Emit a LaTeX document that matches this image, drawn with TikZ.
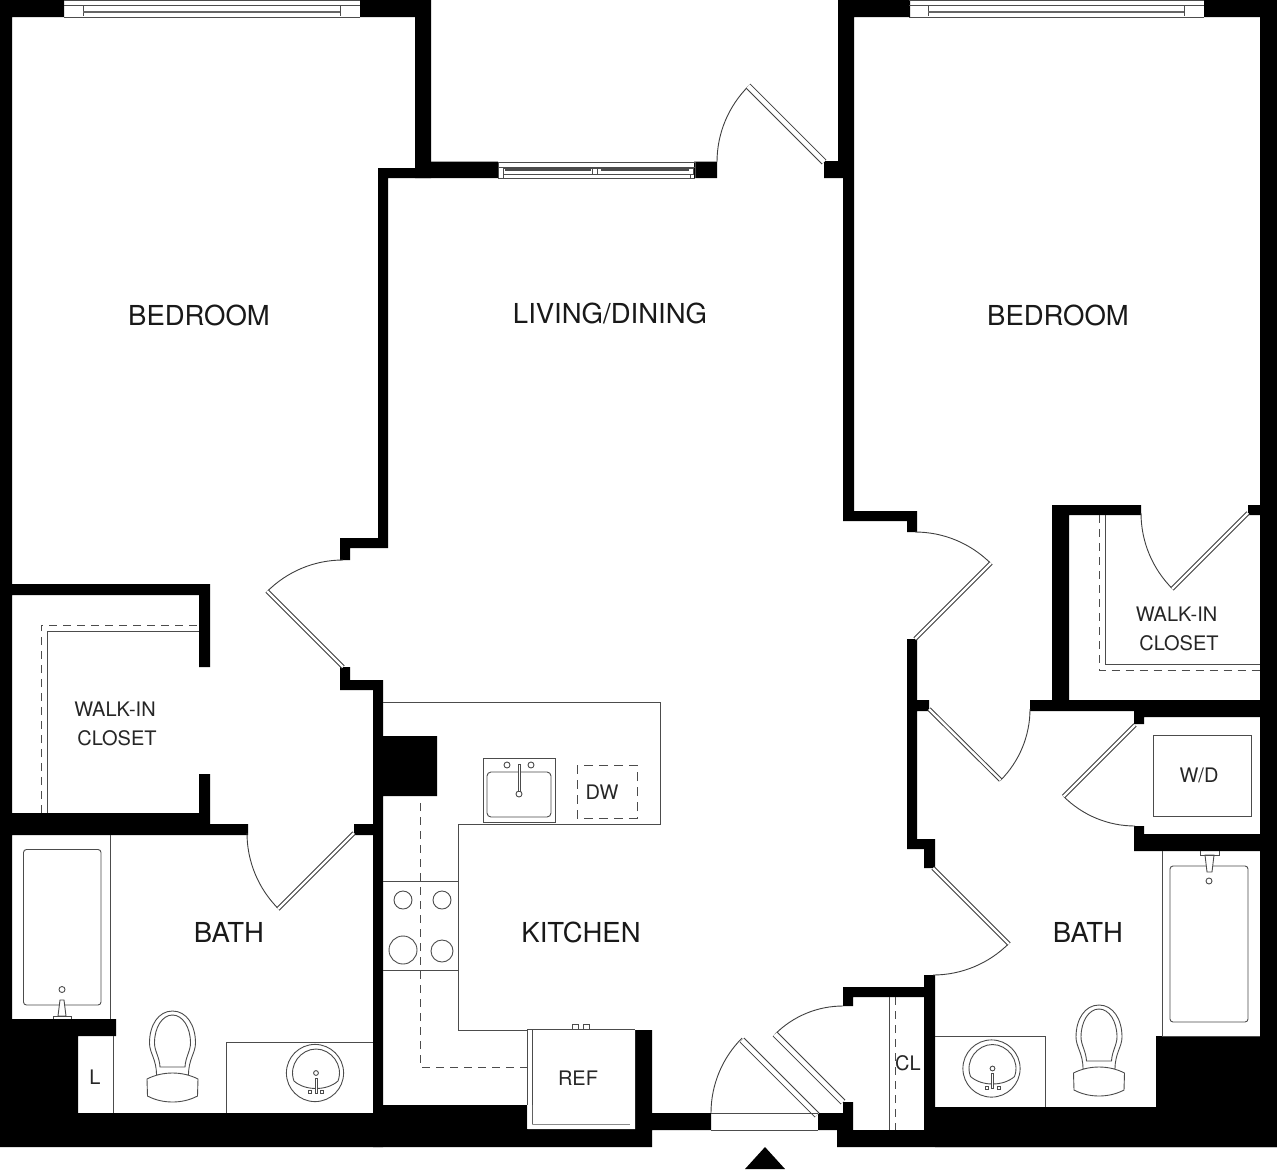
\documentclass[tikz,border=0pt]{standalone}
\usepackage{fontspec}
\setmainfont{TeX Gyre Heros}
\usetikzlibrary{arrows.meta,positioning}

\tikzset{
  thinline/.style={draw=black!70,line width=0.9pt},
  dashline/.style={draw=black!70,line width=0.9pt,dash pattern=on 8pt off 6pt},
  toilet/.pic={
    \draw[thinline] (0,0) .. controls (14,0) and (23,14) .. (23,32) .. controls (23,42) and (16,48) .. (16,64)
      -- (-16,64) .. controls (-16,48) and (-23,42) .. (-23,32) .. controls (-23,14) and (-14,0) .. (0,0);
    \draw[thinline] (0,4) .. controls (10,4) and (18,16) .. (18,32) .. controls (18,40) and (13,46) .. (12.5,56)
      -- (-12.5,56) .. controls (-13,46) and (-18,40) .. (-18,32) .. controls (-18,16) and (-10,4) .. (0,4);
    \draw[thinline,fill=white] (-25.5,68) .. controls (-10,60) and (10,60) .. (25.5,68) -- (25,85)
      .. controls (10,93) and (-10,93) .. (-25,85) -- cycle;
  },
  basin/.pic={
    \draw[thinline] (0,0) circle [radius=28.6];
    \draw[thinline] (-21,8) .. controls (-27,-8) and (-14,-24) .. (1,-24) .. controls (16,-24) and (29,-8) .. (23,8)
      .. controls (12,18) and (-10,18) .. (-21,8);
    \draw[thinline] (1,0) circle [radius=2.4];
    \draw[thinline,fill=white] (0,5) rectangle (2,20);
    \draw[thinline] (-6.5,17.5) rectangle (-3.5,20.5);
    \draw[thinline] (5.5,17.5) rectangle (8.5,20.5);
  }
}

\begin{document}
\begin{tikzpicture}[x=1pt,y=-1pt]
  \tikzstyle{wall}=[fill=black]
  \tikzstyle{swing}=[draw=black!75,line width=0.9pt]
  \tikzstyle{leaf}=[draw=black!75,line width=1pt,double=white,double distance=2.4pt]
  \tikzstyle{wideleaf}=[draw=black!75,line width=1pt,double=white,double distance=4.6pt]
  \tikzstyle{roomtext}=[text=black!90,font=\fontsize{27.5}{30}\selectfont,inner sep=0pt]
  \tikzstyle{smalltext}=[text=black!85,font=\fontsize{20}{22}\selectfont,inner sep=0pt]

  \useasboundingbox (0,0) rectangle (1277,1170);
  \fill[white] (0,0) rectangle (1277,1170);

  % Left bedroom and closet walls
  \fill[wall] (0,0) rectangle (64,17) (360,0) rectangle (431,17) (415,0) rectangle (431,178)
    (0,0) rectangle (12,1147)
    (12,584) rectangle (210,595) (199,584) rectangle (210,667) (199,774) rectangle (210,835)
    (12,813) rectangle (210,835) (210,824) rectangle (248,835) (354,824) rectangle (373,835)
    (0,1019) rectangle (78,1147) (0,1019) rectangle (116,1036) (0,1113) rectangle (383,1147);

  % Living and kitchen walls
  \fill[wall] (378,168) rectangle (498,178) (415,161.5) rectangle (498,178) (694,161.5) rectangle (717,178)
    (378,168) rectangle (388,548) (340,538) rectangle (388,548) (340,538) rectangle (350,560)
    (340,667) rectangle (350,690) (340,680) rectangle (383,690) (373,680) rectangle (383,1147)
    (383,736) rectangle (437,796)
    (383,1105) rectangle (527,1147) (527,1129) rectangle (652,1147) (635,1030) rectangle (652,1147)
    (652,1113) rectangle (711,1130) (818,1113) rectangle (853,1130) (843,1102) rectangle (853,1130)
    (837,1130) rectangle (1277,1147)
    (843,987) rectangle (924,997) (843,987) rectangle (853,1006) (924,975) rectangle (935,1147);

  % Right bedroom, closet and bath walls
  \fill[wall] (838,0) rectangle (910,17) (1204,0) rectangle (1277,17) (1260,0) rectangle (1277,1147)
    (838,0) rectangle (854,178) (824,161) rectangle (854,178) (843,178) rectangle (854,521)
    (843,511) rectangle (917,521) (907,511) rectangle (917,532)
    (907,639) rectangle (917,849) (907,700) rectangle (929,711) (907,839) rectangle (935,849)
    (924,839) rectangle (935,868)
    (1030,700) rectangle (1277,711) (1134,700) rectangle (1144,724) (1144,711) rectangle (1260,717)
    (1134,826) rectangle (1144,851) (1134,834) rectangle (1277,851)
    (1052,505) rectangle (1141,515) (1052,505) rectangle (1069,711) (1248,505) rectangle (1277,515)
    (935,1107) rectangle (1277,1147) (1156,1036) rectangle (1277,1147);

  % Bedroom windows
  \draw[thinline] (64,0.5) -- (360,0.5) (64,5) -- (360,5) (64,17) -- (360,17) (83,5) -- (83,16) (340,5) -- (340,16);
  \draw[draw=black!60,line width=1.8pt] (83,12) -- (340,12);
  \draw[thinline] (909,0.5) -- (1204,0.5) (909,5) -- (1204,5) (909,17) -- (1204,17) (928,5) -- (928,16) (1184,5) -- (1184,16);
  \draw[draw=black!60,line width=1.8pt] (928,12) -- (1184,12);

  % Living window
  \draw[thinline] (498,162) -- (695,162) (498,178) -- (695,178) (498,167.5) -- (695,167.5) (498,162) -- (498,178) (695,162) -- (695,178);
  \draw[thinline] (503,168) rectangle (693,174.5) (503,174.5) -- (503,178) (690,174.5) -- (690,178);
  \draw[draw=black!70,line width=1.8pt] (505,170) -- (591,170) (601,170) -- (689,170);
  \draw[thinline] (592,167.5) -- (592,174.5) (597,167.5) -- (597,174.5);

  % Doors
  \draw[swing] (717,162) arc [start angle=180,end angle=225,radius=107];
  \draw[wideleaf] (824,162) -- (748,86);
  \draw[swing] (343,560) arc [start angle=270,end angle=225,radius=107];
  \draw[leaf] (343,667) -- (267,591);
  \draw[swing] (915,532) arc [start angle=270,end angle=315,radius=107];
  \draw[leaf] (915,639) -- (991,563);
  \draw[swing] (1030,709) arc [start angle=0,end angle=45,radius=101];
  \draw[leaf] (929,709) -- (1000.5,780);
  \draw[swing] (1135,826) arc [start angle=90,end angle=135,radius=101];
  \draw[leaf] (1135,725) -- (1063.5,796.5);
  \draw[swing] (933,975) arc [start angle=90,end angle=45,radius=107];
  \draw[leaf] (933,868) -- (1009,944);
  \draw[swing] (247,833) arc [start angle=180,end angle=135,radius=107];
  \draw[leaf] (354,833) -- (278,909);
  \draw[swing] (1141,513) arc [start angle=180,end angle=135,radius=107];
  \draw[leaf] (1248,513) -- (1172,589);
  \draw[swing] (711,1113) arc [start angle=180,end angle=225,radius=106];
  \draw[wideleaf] (817,1115) -- (742,1040);
  \draw[swing] (843,1006) arc [start angle=270,end angle=225,radius=96];
  \draw[wideleaf] (843,1102) -- (775,1034);
  \draw[thinline] (711,1113.5) -- (818,1113.5) (711,1130) -- (818,1130);
  \fill[wall] (745,1169) -- (765,1147) -- (785,1169) -- cycle;

  % Left closet and bath
  \draw[thinline] (47,813) -- (47,631) -- (199,631);
  \draw[dashline] (41,813) -- (41,625) -- (199,625);
  \draw[thinline] (110,835) -- (110,1019) (113,1036) -- (113,1113) (226,1113) -- (226,1042) -- (373,1042);
  \draw[thinline,rounded corners=3pt] (23.5,849.5) rectangle (101,1005);
  \draw[thinline] (62,989.5) circle [radius=3];
  \draw[thinline,fill=white] (58,1016) -- (60,1000) -- (64,1000) -- (66,1016) -- cycle;
  \draw[thinline] (53,1019) -- (53,1016) -- (71,1016) -- (71,1019);
  \pic at (172.5,1011) {toilet};
  \pic at (315,1073) {basin};

  % Kitchen
  \draw[thinline] (383,702) -- (660,702) -- (660,824) -- (458,824) -- (458,1030) -- (527,1030);
  \draw[thinline] (483,758) rectangle (555,822);
  \draw[thinline,rounded corners=4pt] (487,772) rectangle (551,817);
  \draw[thinline] (507,765) circle [radius=3] (531,765) circle [radius=3] (519,794) circle [radius=3];
  \draw[thinline,fill=white] (518,764) rectangle (520,791);
  \draw[dashline,dash pattern=on 9pt off 6pt] (577,765) rectangle (637,818);
  \draw[dashline] (420,803) -- (420,1067) -- (527,1067);
  \draw[thinline] (383,881) -- (458,881) (383,970) -- (458,970);
  \draw[thinline] (403,900) circle [radius=9] (442,900) circle [radius=9] (403,950) circle [radius=14] (442,951) circle [radius=11];
  \draw[thinline] (527,1029.5) -- (527,1105) (532,1029.5) rectangle (630,1124) (527,1029.5) -- (635,1029.5);
  \draw[thinline] (572,1029) -- (572,1024) -- (578,1024) -- (578,1029) (583,1029) -- (583,1024) -- (589,1024) -- (589,1029);
  \fill[white] (527.5,1105) rectangle (532,1129) (630,1030) rectangle (635,1129) (532,1124.5) rectangle (630,1129);

  % Right closet and bath
  \draw[thinline] (1105,515) -- (1105,664.5) -- (1260,664.5);
  \draw[dashline] (1099,515) -- (1099,670.5) -- (1260,670.5);
  \draw[thinline] (1153,735) rectangle (1251,816);
  \draw[thinline] (889,997) -- (889,1130);
  \draw[dashline] (895,997) -- (895,1130);
  \draw[thinline] (1162,851) -- (1162,1036) -- (1260,1036) (935,1036) -- (1045,1036) -- (1045,1107);
  \draw[thinline,rounded corners=3pt] (1170,866) rectangle (1248,1022);
  \draw[thinline] (1209,881) circle [radius=3];
  \draw[thinline,fill=white] (1205,855) -- (1207,872) -- (1212,872) -- (1214,855) -- cycle;
  \draw[thinline] (1200,851) -- (1200,855) -- (1219,855) -- (1219,851);
  \pic at (1099,1005) {toilet};
  \pic at (991.5,1068.5) {basin};

  % Room labels
  \node[roomtext] (bed_left) at (199,315) {BEDROOM};
  \node[roomtext] (living) at (610,313) {LIVING/DINING};
  \node[roomtext] (bed_right) at (1058,315) {BEDROOM};
  \node[roomtext] (bath_left) at (229,932) {BATH};
  \node[roomtext] (kitchen) at (581,932) {KITCHEN};
  \node[roomtext] (bath_right) at (1088,932) {BATH};
  \node[smalltext] (walk_left) at (115,709.5) {WALK-IN};
  \node[smalltext] (closet_left) at (117,738.5) {CLOSET};
  \node[smalltext] (walk_right) at (1176.5,614.5) {WALK-IN};
  \node[smalltext] (closet_right) at (1179,643) {CLOSET};
  \node[smalltext] (dw) at (602,792.5) {DW};
  \node[smalltext] (ref) at (578,1078) {REF};
  \node[smalltext] (wd) at (1199,775.5) {W/D};
  \node[smalltext] (linen) at (95,1077) {L};
  \node[smalltext] (cl) at (908,1063) {CL};
\end{tikzpicture}
\end{document}
